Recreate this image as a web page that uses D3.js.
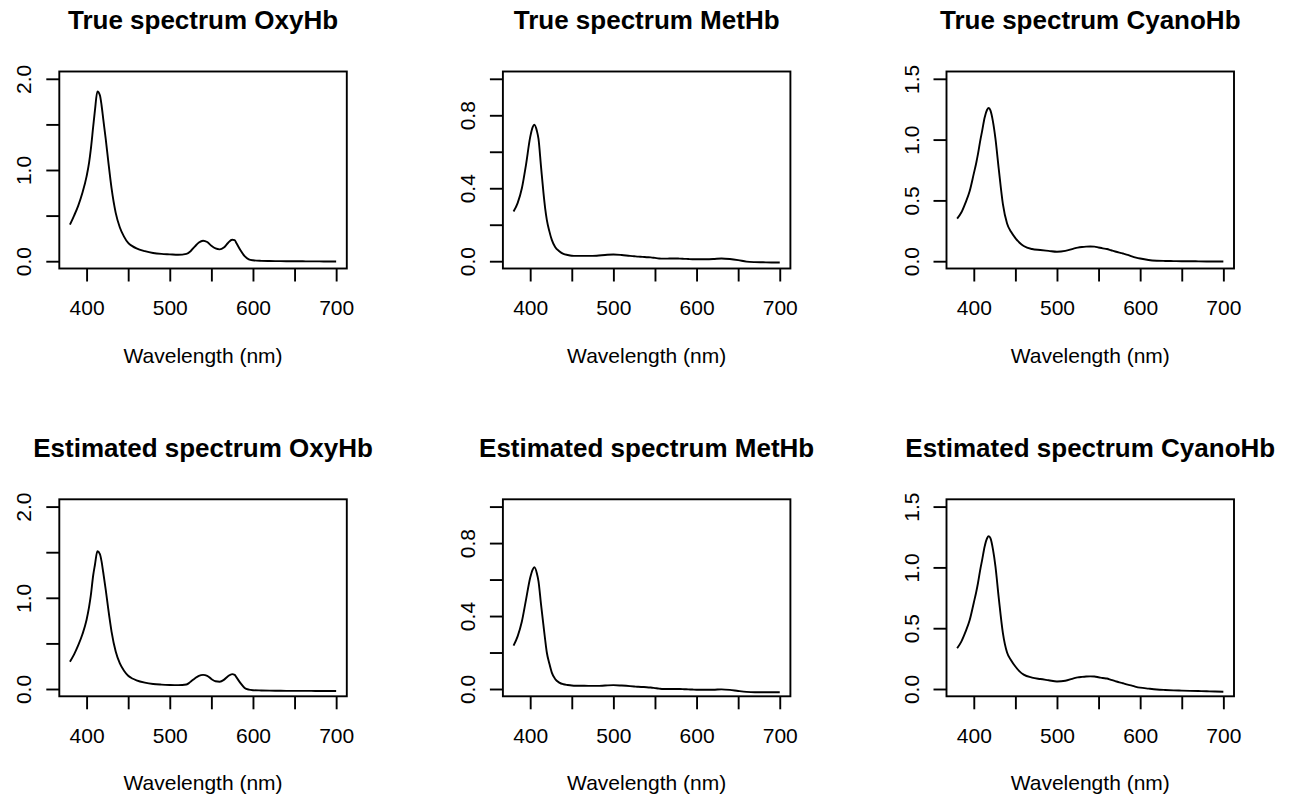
<!DOCTYPE html>
<html>
<head>
<meta charset="utf-8">
<script src="https://cdn.jsdelivr.net/npm/d3@7"></script>
<style>
  html, body { margin: 0; padding: 0; background: #ffffff; }
  svg { display: block; font-family: "Liberation Sans", Arial, Helvetica, sans-serif; }
</style>
</head>
<body>
<svg id="chart" width="1291" height="798"></svg>
<script>
// ---------------- DATA ----------------
const wavelength = [380,385,390,395,400,403,405,408,410,413,416,418,420,423,426,430,435,440,445,450,455,460,470,480,490,500,510,520,525,530,535,540,545,550,555,560,565,570,575,578,580,585,590,595,600,610,620,630,640,650,660,670,680,690,700];

const trueOxyHb = [0.40,0.50,0.61,0.75,0.93,1.08,1.22,1.48,1.65,1.86,1.82,1.71,1.56,1.34,1.10,0.80,0.53,0.37,0.27,0.20,0.165,0.14,0.11,0.09,0.08,0.075,0.07,0.08,0.11,0.16,0.205,0.225,0.21,0.17,0.14,0.13,0.15,0.20,0.235,0.23,0.20,0.12,0.055,0.02,0.01,0.004,0.002,0.001,0.0,0.0,-0.001,-0.002,-0.002,-0.003,-0.003];
const estOxyHb = [0.30,0.38,0.48,0.60,0.76,0.90,1.02,1.25,1.36,1.51,1.48,1.40,1.28,1.09,0.88,0.63,0.41,0.28,0.20,0.145,0.115,0.095,0.07,0.055,0.048,0.044,0.042,0.05,0.08,0.115,0.145,0.155,0.145,0.11,0.085,0.08,0.10,0.14,0.163,0.155,0.13,0.065,0.012,-0.007,-0.013,-0.016,-0.018,-0.019,-0.02,-0.02,-0.021,-0.021,-0.022,-0.022,-0.022];

const trueMetHb = [0.272,0.32,0.40,0.53,0.68,0.735,0.748,0.715,0.67,0.52,0.373,0.29,0.227,0.165,0.117,0.078,0.055,0.04,0.034,0.03,0.029,0.029,0.029,0.030,0.034,0.037,0.034,0.029,0.027,0.025,0.024,0.022,0.021,0.018,0.015,0.014,0.014,0.015,0.015,0.015,0.014,0.013,0.012,0.011,0.011,0.011,0.012,0.015,0.012,0.006,-0.002,-0.005,-0.006,-0.007,-0.007];
const estMetHb = [0.238,0.29,0.37,0.49,0.61,0.655,0.668,0.635,0.59,0.465,0.347,0.27,0.20,0.14,0.09,0.055,0.035,0.026,0.022,0.019,0.018,0.018,0.017,0.017,0.019,0.021,0.019,0.016,0.014,0.012,0.011,0.01,0.008,0.005,0.002,0.0,0.0,0.0,0.0,0.0,0.0,-0.001,-0.002,-0.003,-0.004,-0.004,-0.004,-0.002,-0.005,-0.011,-0.016,-0.018,-0.018,-0.018,-0.018];

const trueCyanoHb = [0.35,0.40,0.48,0.575,0.72,0.81,0.88,1.0,1.07,1.18,1.245,1.26,1.24,1.15,1.01,0.76,0.47,0.31,0.24,0.19,0.152,0.125,0.10,0.092,0.085,0.078,0.085,0.104,0.112,0.117,0.12,0.121,0.12,0.113,0.106,0.10,0.09,0.08,0.071,0.066,0.062,0.052,0.04,0.03,0.022,0.01,0.004,0.002,0.001,0.0,0.0,-0.001,-0.002,-0.003,-0.003];
const estCyanoHb = [0.335,0.39,0.47,0.565,0.71,0.80,0.87,0.99,1.06,1.17,1.24,1.256,1.24,1.15,1.01,0.75,0.46,0.30,0.235,0.185,0.145,0.118,0.094,0.082,0.072,0.062,0.068,0.088,0.096,0.10,0.103,0.104,0.103,0.097,0.09,0.086,0.075,0.065,0.055,0.05,0.046,0.036,0.028,0.018,0.011,0.003,-0.004,-0.008,-0.011,-0.013,-0.015,-0.017,-0.019,-0.021,-0.022];

const species = ["OxyHb", "MetHb", "CyanoHb"];
const rowTitles = ["True spectrum", "Estimated spectrum"];
const seriesGrid = [
  [trueOxyHb, trueMetHb, trueCyanoHb],
  [estOxyHb, estMetHb, estCyanoHb]
];
const yMax = [2.0, 1.0, 1.5];
const yTicks = [[0, 0.5, 1.0, 1.5, 2.0], [0, 0.2, 0.4, 0.6, 0.8, 1.0], [0, 0.5, 1.0, 1.5]];
const yTickLabels = [[0, 1.0, 2.0], [0, 0.4, 0.8], [0, 0.5, 1.0, 1.5]];
const xTicks = [400, 450, 500, 550, 600, 650, 700];
const xTickLabels = [400, 500, 600, 700];
const xAxisTitle = "Wavelength (nm)";

// ---------------- LAYOUT ----------------
const colLeft = [59.3, 502.9, 946.5];
const rowTop = [71.5, 499.3];
const boxW = 287.5, boxH = 197;
const lw = 1.9;
const tickLen = 13;

const svg = d3.select("#chart");

const xMin = d3.min(wavelength), xMax = d3.max(wavelength);
const xPad = (xMax - xMin) * 0.04;

seriesGrid.forEach((row, r) => {
  row.forEach((vals, c) => {
    const left = colLeft[c], top = rowTop[r];
    const g = svg.append("g").attr("transform", `translate(${left},${top})`);

    const x = d3.scaleLinear().domain([xMin - xPad, xMax + xPad]).range([0, boxW]);
    const yPad = yMax[c] * 0.04;
    const y = d3.scaleLinear().domain([-yPad, yMax[c] + yPad]).range([boxH, 0]);

    // curve
    const pts = wavelength.map((w, i) => [w, vals[i]]);
    const line = d3.line().x(d => x(d[0])).y(d => y(d[1])).curve(d3.curveMonotoneX);
    g.append("path").datum(pts).attr("d", line)
      .attr("fill", "none").attr("stroke", "#000").attr("stroke-width", lw)
      .attr("stroke-linejoin", "round");

    // box
    g.append("rect").attr("x", 0).attr("y", 0).attr("width", boxW).attr("height", boxH)
      .attr("fill", "none").attr("stroke", "#000").attr("stroke-width", lw);

    // x axis
    const xa = g.append("g").attr("transform", `translate(0,${boxH})`)
      .call(d3.axisBottom(x).tickValues(xTicks).tickSize(tickLen).tickSizeOuter(0)
        .tickFormat(d => xTickLabels.includes(d) ? String(d) : ""));
    xa.select(".domain").remove();
    xa.selectAll(".tick line").attr("stroke", "#000").attr("stroke-width", lw);
    xa.selectAll(".tick text").attr("y", 46.5).attr("dy", null)
      .attr("font-size", 21).attr("fill", "#000")
      .attr("font-family", "'Liberation Sans', Arial, Helvetica, sans-serif");

    // y axis
    const ya = g.append("g")
      .call(d3.axisLeft(y).tickValues(yTicks[c]).tickSize(tickLen).tickSizeOuter(0)
        .tickFormat(d => yTickLabels[c].some(v => Math.abs(v - d) < 1e-9) ? d3.format(".1f")(d) : ""));
    ya.select(".domain").remove();
    ya.selectAll(".tick line").attr("stroke", "#000").attr("stroke-width", lw);
    ya.selectAll(".tick text").attr("x", null).attr("dy", null)
      .attr("text-anchor", "middle")
      .attr("transform", "translate(-28,0) rotate(-90)")
      .attr("font-size", 21).attr("fill", "#000")
      .attr("font-family", "'Liberation Sans', Arial, Helvetica, sans-serif");

    // title
    g.append("text").attr("x", boxW / 2).attr("y", -42.5)
      .attr("text-anchor", "middle").attr("font-weight", "bold").attr("font-size", 26)
      .attr("fill", "#000")
      .text(`${rowTitles[r]} ${species[c]}`);

    // x axis title
    g.append("text").attr("x", boxW / 2).attr("y", boxH + 94)
      .attr("text-anchor", "middle").attr("font-size", 21).attr("fill", "#000")
      .text(xAxisTitle);
  });
});
</script>
</body>
</html>
